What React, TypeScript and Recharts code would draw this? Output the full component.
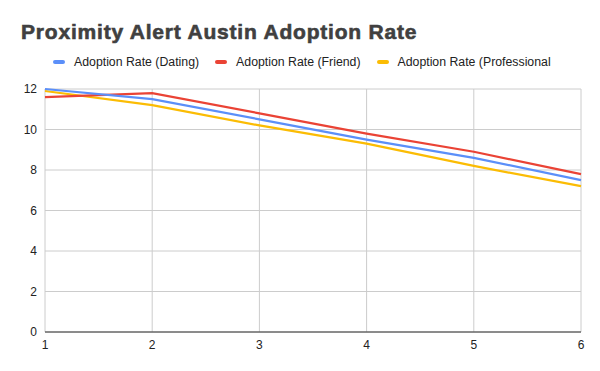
import React from 'react';
import { LineChart, Line, XAxis, YAxis, CartesianGrid } from 'recharts';

const xValues = [1, 2, 3, 4, 5, 6];
const dating = [12, 11.5, 10.5, 9.5, 8.6, 7.5];
const friend = [11.6, 11.8, 10.8, 9.8, 8.9, 7.8];
const professional = [11.9, 11.2, 10.2, 9.3, 8.2, 7.2];
const yTicks = [0, 2, 4, 6, 8, 10, 12];

const seriesNames = ['Adoption Rate (Dating)', 'Adoption Rate (Friend)', 'Adoption Rate (Professional'];
const seriesColors = ['#5b8ff9', '#ea4335', '#fbbc04'];

const data = xValues.map((x, i) => ({
  x,
  dating: dating[i],
  friend: friend[i],
  professional: professional[i],
}));

const font = 'Arial, "Liberation Sans", sans-serif';

export default function App() {
  return (
    <div style={{ position: 'absolute', left: 0, top: 0, width: 600, height: 371, background: '#fff', fontFamily: font }}>
      <div
        style={{
          position: 'absolute',
          left: 21,
          top: 20.5,
          fontSize: 21,
          lineHeight: '21px',
          fontWeight: 'bold',
          color: '#404040',
          WebkitTextStroke: '0.6px #404040',
          letterSpacing: 0.8,
          whiteSpace: 'nowrap',
        }}
      >
        Proximity Alert Austin Adoption Rate
      </div>
      <div
        style={{
          position: 'absolute',
          left: 53,
          top: 56,
          display: 'flex',
          alignItems: 'center',
          fontSize: 12.3,
          lineHeight: '12px',
          color: '#222',
          whiteSpace: 'nowrap',
        }}
      >
        {seriesNames.map((name, i) => (
          <div key={name} style={{ display: 'flex', alignItems: 'center', marginRight: 16 }}>
            <span
              style={{
                display: 'inline-block',
                width: 12,
                height: 4,
                borderRadius: 2,
                background: seriesColors[i],
                marginRight: 9,
              }}
            />
            <span>{name}</span>
          </div>
        ))}
      </div>
      <LineChart
        width={600}
        height={371}
        data={data}
        margin={{ top: 89, right: 19, bottom: 19, left: 0 }}
        style={{ position: 'absolute', left: 0, top: 0 }}
      >
        <CartesianGrid stroke="#cccccc" />
        <XAxis
          dataKey="x"
          type="number"
          domain={[1, 6]}
          ticks={xValues}
          height={20}
          tickLine={false}
          axisLine={{ stroke: '#333', strokeWidth: 1 }}
          tick={{ fill: '#222', fontSize: 12, fontFamily: font }}
        />
        <YAxis
          domain={[0, 12]}
          ticks={yTicks}
          width={45}
          tickLine={false}
          axisLine={false}
          tickMargin={2}
          tick={{ fill: '#222', fontSize: 12, fontFamily: font }}
        />
        <Line type="linear" dataKey="professional" stroke={seriesColors[2]} strokeWidth={2.2} dot={false} isAnimationActive={false} />
        <Line type="linear" dataKey="friend" stroke={seriesColors[1]} strokeWidth={2.2} dot={false} isAnimationActive={false} />
        <Line type="linear" dataKey="dating" stroke={seriesColors[0]} strokeWidth={2.2} dot={false} isAnimationActive={false} />
      </LineChart>
    </div>
  );
}
